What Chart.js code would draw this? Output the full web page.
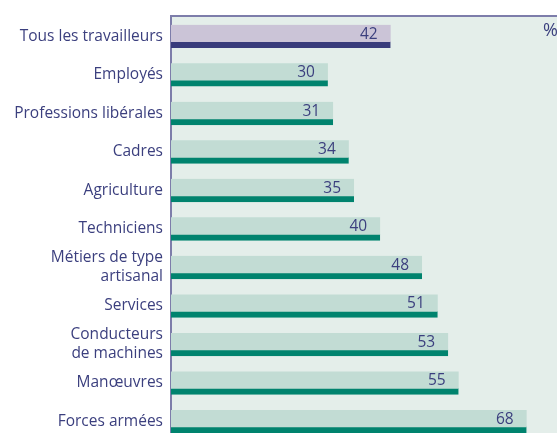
<!DOCTYPE html>
<html>
<head>
<meta charset="utf-8">
<script src="https://cdn.jsdelivr.net/npm/chart.js@4.4.1/dist/chart.umd.min.js"></script>
<style>
  html, body { margin: 0; padding: 0; background: #ffffff; }
  #wrap { width: 557px; height: 433px; }
</style>
</head>
<body>
<div id="wrap"><canvas id="bar-chart"></canvas></div>
<script>
// data
var categories = [
    "Tous les travailleurs",
    "Employés",
    "Professions libérales",
    "Cadres",
    "Agriculture",
    "Techniciens",
    ["Métiers de type", "artisanal"],
    "Services",
    ["Conducteurs", "de machines"],
    "Manœuvres",
    "Forces armées"
];
var values = [42, 30, 31, 34, 35, 40, 48, 51, 53, 55, 68];
var unitLabel = "%";

var navy = "#3b3f7e";
var fills = values.map(function(v, i) { return i === 0 ? "#cbc4d7" : "#c2dcd4"; });
var bottoms = values.map(function(v, i) { return i === 0 ? "#383b7b" : "#00836e"; });

// panel background, frame, value labels and unit
var decorPlugin = {
    id: 'decor',
    beforeDraw: function(chart) {
        var ctx = chart.ctx, a = chart.chartArea;
        ctx.save();
        ctx.fillStyle = "#e4eeea";
        ctx.fillRect(a.left, a.top, chart.width - a.left, chart.height - a.top);
        ctx.strokeStyle = "#7d7daa";
        ctx.lineWidth = 2;
        ctx.beginPath();
        ctx.moveTo(a.left, chart.height);
        ctx.lineTo(a.left, a.top - 1);
        ctx.lineTo(chart.width, a.top - 1);
        ctx.stroke();
        ctx.restore();
    },
    afterDatasetsDraw: function(chart) {
        var ctx = chart.ctx;
        var meta = chart.getDatasetMeta(0);
        ctx.save();
        ctx.fillStyle = navy;
        ctx.font = "15.5px 'Open Sans'";
        ctx.textAlign = "right";
        ctx.textBaseline = "middle";
        meta.data.forEach(function(bar, i) {
            ctx.fillText(values[i], bar.x - 13, bar.y - 2);
        });
        ctx.font = "18px 'Open Sans'";
        ctx.textAlign = "left";
        ctx.fillText(unitLabel, 543, 31);
        ctx.restore();
    }
};

new Chart(document.getElementById("bar-chart"), {
    type: 'bar',
    data: {
        datasets: [{
            data: values.map(function(v, i) { return { x: v, y: i }; }),
            backgroundColor: fills,
            borderColor: bottoms,
            borderWidth: { top: 0, right: 0, bottom: 6, left: 0 },
            borderSkipped: false,
            barThickness: 23
        }]
    },
    options: {
        indexAxis: 'y',
        responsive: true,
        maintainAspectRatio: false,
        animation: false,
        layout: { padding: { top: 17, right: 0, bottom: 0, left: 0 } },
        plugins: {
            legend: { display: false },
            tooltip: { enabled: false }
        },
        scales: {
            x: {
                type: 'linear',
                display: false,
                min: 0,
                max: 73.8
            },
            y: {
                type: 'linear',
                bounds: 'data',
                offset: false,
                reverse: true,
                min: -0.5,
                max: 10.3,
                grid: { display: false, drawTicks: false, offset: false },
                border: { display: false },
                afterFit: function(scale) {
                    scale.width = 171;
                    scale.paddingTop = 0;
                    scale.paddingBottom = 0;
                },
                afterBuildTicks: function(scale) {
                    scale.ticks = categories.map(function(c, i) { return { value: i }; });
                },
                ticks: {
                    autoSkip: false,
                    padding: 8,
                    color: navy,
                    font: { family: "'Open Sans'", size: 15.5, lineHeight: 1.22 },
                    callback: function(v) {
                        return categories[v] || '';
                    }
                }
            }
        }
    },
    plugins: [decorPlugin]
});
</script>
</body>
</html>
